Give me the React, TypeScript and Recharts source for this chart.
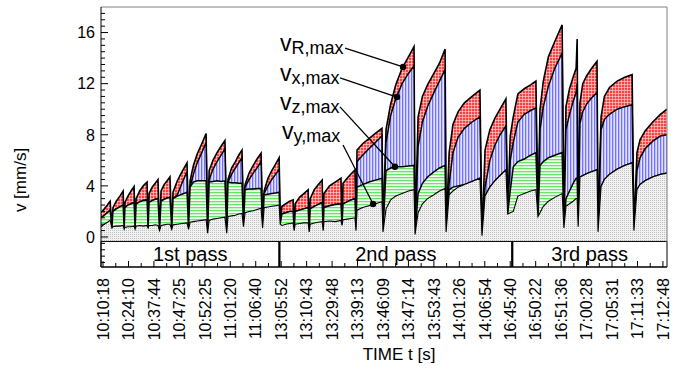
import React from "react";
import {
  ComposedChart,
  Area,
  XAxis,
  YAxis,
  ReferenceArea,
  ReferenceLine,
  ReferenceDot,
} from "recharts";

// category labels on the time axis (one per index step)
const timeLabels = [
  "10:10:18", "10:24:10", "10:37:44", "10:47:25", "10:52:25", "11:01:20",
  "11:06:40", "13:05:52", "13:10:43", "13:29:48", "13:39:13", "13:46:09",
  "13:47:14", "13:53:43", "14:01:26", "14:06:54", "16:45:40", "16:50:22",
  "16:51:36", "17:00:28", "17:05:31", "17:11:33", "17:12:48",
];

// sample positions, in label-index units
const tIdx = [
  // 1st pass
  -0.08, 0.05, 0.17, 0.28, 0.35,
  0.39, 0.52, 0.66, 0.79, 0.83,
  0.86, 0.98, 1.10, 1.22, 1.26,
  1.30, 1.44, 1.58, 1.73, 1.77,
  1.81, 1.93, 2.05, 2.16, 2.22,
  2.28, 2.40, 2.52, 2.63, 2.70,
  2.75, 2.92, 3.10, 3.30, 3.36,
  3.42, 3.55, 3.70, 3.88, 4.05, 4.11,
  4.17, 4.32, 4.48, 4.64, 4.79, 4.86,
  4.91, 5.05, 5.20, 5.33, 5.46, 5.52,
  5.58, 5.74, 5.90, 6.05, 6.21, 6.27,
  6.33, 6.48, 6.63, 6.78, 6.92, 6.96,
  // 2nd pass
  7.03, 7.18, 7.33, 7.47, 7.51,
  7.55, 7.72, 7.89, 8.06, 8.10,
  8.14, 8.30, 8.46, 8.61, 8.65,
  8.68, 8.90, 9.12, 9.35, 9.39,
  9.43, 9.59, 9.75, 9.90, 9.94,
  9.98, 10.20, 10.45, 10.70, 10.96, 11.00,
  11.12, 11.30, 11.50, 11.75, 12.00, 12.22, 12.26,
  12.38, 12.55, 12.75, 13.00, 13.22, 13.44, 13.48,
  13.60, 13.75, 13.95, 14.20, 14.50, 14.81, 14.89,
  15.01, 15.20, 15.40, 15.60, 15.83, 15.90,
  // 3rd pass
  16.00, 16.12, 16.30, 16.55, 16.80, 17.01, 17.09,
  17.17, 17.30, 17.50, 17.75, 18.04, 18.11,
  18.19, 18.33, 18.47, 18.59, 18.63, 18.67,
  18.74, 18.85, 19.00, 19.20, 19.41, 19.45,
  19.57, 19.70, 19.90, 20.20, 20.50, 20.79, 20.86,
  20.98, 21.10, 21.30, 21.60, 21.90, 22.16,
];

// v_R,max [mm/s]
const vR = [
  1.9, 2.2, 2.5, 2.8, 0.7,
  2.3, 2.8, 3.2, 3.6, 0.6,
  2.7, 3.2, 3.6, 3.95, 0.6,
  3.0, 3.6, 4.0, 4.3, 0.7,
  3.4, 3.9, 4.2, 4.5, 0.5,
  3.6, 4.1, 4.4, 4.7, 0.6,
  3.5, 4.4, 5.1, 5.8, 0.6,
  4.4, 5.6, 6.5, 7.3, 8.1, 0.3,
  5.2, 6.0, 6.6, 7.1, 7.55, 0.3,
  4.5, 5.4, 5.9, 6.4, 6.8, 0.8,
  4.1, 5.0, 5.6, 6.1, 6.55, 0.7,
  3.6, 4.6, 5.2, 5.7, 6.2, 1.0,
  2.4, 2.6, 2.8, 2.9, 0.5,
  2.6, 3.1, 3.4, 3.7, 0.4,
  3.0, 3.7, 4.1, 4.45, 0.5,
  3.4, 4.0, 4.3, 4.6, 0.9,
  4.2, 4.6, 4.95, 5.25, 0.5,
  6.8, 7.3, 7.7, 8.1, 8.5, 0.4,
  8.4, 10.4, 11.9, 13.2, 14.1, 14.9, 0.2,
  9.4, 11.0, 11.9, 12.8, 13.6, 14.7, 0.4,
  6.6, 8.8, 9.8, 10.5, 11.0, 11.5, 0.1,
  6.8, 8.4, 9.3, 10.0, 10.8, 1.8,
  7.9, 9.4, 11.2, 11.6, 11.9, 12.2, 1.6,
  10.0, 12.2, 14.1, 15.3, 16.6, 0.7,
  10.2, 11.6, 12.5, 13.2, 15.5, 0.8,
  10.5, 12.0, 12.6, 13.2, 13.75, 0.4,
  9.4, 11.0, 11.7, 12.2, 12.5, 12.7, 0.5,
  6.6, 7.6, 8.3, 9.0, 9.6, 10.0,
];

// v_x,max [mm/s]
const vX = [
  1.5, 1.7, 1.9, 2.1, 0.7,
  2.0, 2.2, 2.35, 2.5, 0.6,
  2.3, 2.5, 2.6, 2.7, 0.6,
  2.6, 2.75, 2.85, 2.9, 0.7,
  2.7, 2.85, 2.95, 3.0, 0.5,
  2.8, 2.95, 3.05, 3.1, 0.6,
  3.0, 3.3, 4.2, 5.1, 0.6,
  3.9, 4.9, 5.8, 6.6, 7.4, 0.3,
  4.5, 5.3, 5.9, 6.4, 6.9, 0.3,
  4.3, 4.9, 5.4, 5.8, 6.2, 0.8,
  3.9, 4.5, 5.0, 5.4, 5.9, 0.7,
  3.4, 4.0, 4.5, 4.9, 5.3, 1.0,
  1.8, 1.9, 2.0, 2.0, 0.5,
  2.0, 2.1, 2.2, 2.3, 0.4,
  2.2, 2.4, 2.55, 2.7, 0.5,
  2.3, 2.45, 2.55, 2.6, 0.9,
  2.6, 2.75, 2.9, 3.0, 0.5,
  5.9, 6.4, 6.9, 7.4, 7.9, 0.4,
  7.4, 9.5, 10.8, 12.0, 12.8, 13.4, 0.2,
  7.1, 9.0, 10.2, 11.3, 12.2, 13.1, 0.4,
  4.2, 6.6, 7.8, 8.5, 9.0, 9.4, 0.1,
  3.9, 6.0, 7.2, 8.0, 8.7, 1.8,
  6.0, 7.4, 9.0, 9.6, 9.9, 10.1, 1.6,
  8.4, 10.2, 11.8, 13.2, 14.4, 0.7,
  8.4, 9.6, 10.6, 11.3, 12.0, 0.8,
  8.9, 9.8, 10.4, 10.9, 11.3, 0.4,
  8.4, 9.2, 9.6, 10.0, 10.2, 10.35, 0.5,
  5.2, 6.2, 6.9, 7.5, 7.9, 8.0,
];

// v_z,max [mm/s]
const vZ = [
  1.5, 1.7, 1.9, 2.1, 0.7,
  2.0, 2.2, 2.35, 2.5, 0.6,
  2.3, 2.5, 2.6, 2.7, 0.6,
  2.6, 2.75, 2.85, 2.9, 0.7,
  2.7, 2.85, 2.95, 3.0, 0.5,
  2.8, 2.95, 3.05, 3.1, 0.6,
  3.0, 3.2, 3.35, 3.5, 0.6,
  3.9, 4.3, 4.4, 4.4, 4.4, 0.3,
  4.3, 4.35, 4.4, 4.35, 4.4, 0.3,
  4.3, 4.25, 4.25, 4.2, 4.2, 0.8,
  3.7, 3.75, 3.75, 3.8, 3.8, 0.7,
  3.3, 3.35, 3.4, 3.45, 3.5, 1.0,
  1.8, 1.9, 2.0, 2.0, 0.5,
  2.0, 2.1, 2.2, 2.3, 0.4,
  2.2, 2.4, 2.55, 2.7, 0.5,
  2.3, 2.45, 2.55, 2.6, 0.9,
  2.6, 2.75, 2.9, 3.0, 0.5,
  3.9, 4.1, 4.3, 4.45, 4.6, 0.4,
  5.2, 5.4, 5.5, 5.5, 5.55, 5.6, 0.2,
  3.4, 4.2, 4.7, 5.1, 5.4, 5.6, 0.4,
  3.7, 3.9, 4.0, 4.1, 4.35, 4.6, 0.1,
  3.2, 3.9, 4.4, 4.8, 5.25, 1.8,
  3.6, 5.5, 5.9, 6.1, 6.4, 6.6, 1.6,
  5.6, 5.9, 6.2, 6.4, 6.6, 0.7,
  3.0, 3.6, 4.2, 4.6, 4.6, 0.8,
  4.7, 4.8, 4.95, 5.1, 5.25, 0.4,
  3.95, 4.5, 4.9, 5.3, 5.6, 5.8, 0.5,
  3.7, 4.1, 4.4, 4.7, 4.9, 5.0,
];

// v_y,max [mm/s]
const vY = [
  0.8, 1.0, 1.15, 1.3, 0.7,
  0.8, 0.85, 0.85, 0.9, 0.6,
  0.75, 0.8, 0.8, 0.85, 0.6,
  0.85, 0.9, 0.85, 0.9, 0.7,
  0.9, 0.9, 0.95, 0.9, 0.5,
  0.9, 0.95, 1.0, 1.0, 0.6,
  0.95, 1.0, 1.05, 1.1, 0.6,
  1.15, 1.2, 1.25, 1.3, 1.35, 0.3,
  1.3, 1.4, 1.45, 1.5, 1.55, 0.3,
  1.6, 1.65, 1.7, 1.8, 1.85, 0.8,
  1.9, 2.0, 2.05, 2.15, 2.25, 0.7,
  2.3, 2.35, 2.4, 2.45, 2.5, 1.0,
  0.9, 1.0, 1.05, 1.1, 0.5,
  1.0, 1.05, 1.1, 1.1, 0.4,
  1.0, 1.1, 1.15, 1.2, 0.5,
  1.2, 1.25, 1.2, 1.3, 0.9,
  1.35, 1.4, 1.45, 1.5, 0.5,
  2.1, 2.3, 2.45, 2.6, 2.75, 0.4,
  2.2, 2.9, 3.2, 3.4, 3.6, 3.7, 0.2,
  1.9, 2.6, 3.0, 3.3, 3.6, 3.8, 0.4,
  3.3, 3.6, 3.9, 4.1, 4.35, 4.6, 0.1,
  3.2, 3.9, 4.4, 4.8, 5.25, 1.8,
  1.9, 2.0, 3.2, 3.4, 3.6, 3.7, 1.6,
  1.9, 2.4, 2.8, 3.1, 3.4, 0.7,
  2.4, 2.6, 2.8, 3.0, 3.0, 0.8,
  4.7, 4.8, 4.95, 5.1, 5.25, 0.4,
  3.95, 4.5, 4.9, 5.3, 5.6, 5.8, 0.5,
  3.7, 4.1, 4.4, 4.7, 4.9, 5.0,
];

const passes = [
  { name: "1st pass", from: -0.08, to: 6.93 },
  { name: "2nd pass", from: 6.93, to: 16.08 },
  { name: "3rd pass", from: 16.08, to: 22.16 },
];

// pointer lines from the labels to the curves
const pointers = [
  { from: [9.51, 14.79], to: [11.79, 13.31] },
  { from: [9.31, 12.45], to: [11.55, 10.95] },
  { from: [9.31, 10.18], to: [11.47, 5.5] },
  { from: [9.43, 7.2], to: [10.61, 2.58] },
];

const yMajor = [0, 4, 8, 12, 16];
const X_MIN = -0.08;
const X_MAX = 22.16;
const Y_MIN = -2.35;
const Y_MAX = 18;
const BAND_TOP = -0.35;

const xTicks = Array.from({ length: 45 }, (_, i) => i * 0.5);
const yTicks = Array.from({ length: 40 }, (_, i) => -2 + i * 0.5);

const rows = tIdx.map((t, i) => ({
  t,
  vR: vR[i],
  vX: vX[i],
  vZ: vZ[i],
  vY: vY[i],
}));

const FONT = '"Liberation Sans", Arial, Helvetica, sans-serif';

function XTick(props: any) {
  const { x, y, payload } = props;
  const v = payload.value as number;
  const major = Number.isInteger(v);
  return (
    <g>
      <line x1={x} x2={x} y1={y} y2={y - (major ? 6 : 4)} stroke="#000" />
      {major && (
        <text
          transform={`translate(${x},${y + 11}) rotate(-90)`}
          textAnchor="end"
          dy="0.36em"
          fontSize={16}
          fill="#000"
        >
          {timeLabels[v]}
        </text>
      )}
    </g>
  );
}

function YTick(props: any) {
  const { x, y, payload } = props;
  const v = payload.value as number;
  const major = yMajor.includes(v);
  return (
    <g>
      <line x1={x} x2={x + (major ? 7 : 4)} y1={y} y2={y} stroke="#000" />
      {major && (
        <text x={x - 6} y={y} dy="0.36em" textAnchor="end" fontSize={16} fill="#000">
          {v}
        </text>
      )}
    </g>
  );
}

function Patterns() {
  return (
    <svg width={0} height={0} style={{ position: "absolute" }}>
      <defs>
        <pattern id="redGrid" width={3} height={3} patternUnits="userSpaceOnUse">
          <rect width={3} height={3} fill="#ff4040" />
          <rect width={3} height={0.6} fill="#ffe0e0" />
          <rect width={0.6} height={3} fill="#ffe0e0" />
        </pattern>
        <pattern id="blueLines" width={3} height={3} patternUnits="userSpaceOnUse">
          <rect width={3} height={3} fill="#e2e2ff" />
          <rect width={1.3} height={3} fill="#7272ff" />
        </pattern>
        <pattern id="greenLines" width={3} height={3} patternUnits="userSpaceOnUse">
          <rect width={3} height={3} fill="#f2fff2" />
          <rect width={3} height={1.3} fill="#6be36b" />
        </pattern>
        <pattern id="grayDots" width={2} height={2} patternUnits="userSpaceOnUse">
          <rect width={2} height={2} fill="#f1f1f1" />
          <rect width={1} height={1} fill="#c2c2c2" />
        </pattern>
      </defs>
    </svg>
  );
}

export default function App() {
  return (
    <div
      style={{
        position: "absolute",
        left: 0,
        top: 0,
        width: 678,
        height: 370,
        background: "#fff",
        fontFamily: FONT,
      }}
    >
      <Patterns />
      <ComposedChart
        width={678}
        height={370}
        data={rows}
        margin={{ top: 7, right: 11, bottom: 0, left: 0 }}
      >
        <XAxis
          type="number"
          dataKey="t"
          domain={[X_MIN, X_MAX]}
          ticks={xTicks}
          interval={0}
          tick={(p: any) => <XTick {...p} />}
          tickLine={false}
          tickSize={0}
          tickMargin={0}
          height={103}
          axisLine={{ stroke: "#000" }}
          allowDataOverflow
        />
        <YAxis
          type="number"
          domain={[Y_MIN, Y_MAX]}
          ticks={yTicks}
          interval={0}
          tick={(p: any) => <YTick {...p} />}
          tickLine={false}
          tickSize={0}
          tickMargin={0}
          width={101}
          axisLine={{ stroke: "#000" }}
          allowDataOverflow
        />
        <Area
          type="linear"
          dataKey="vR"
          stroke="#000"
          strokeWidth={1.6}
          fill="url(#redGrid)"
          fillOpacity={1}
          baseValue={BAND_TOP}
          dot={false}
          activeDot={false}
          isAnimationActive={false}
        />
        <Area
          type="linear"
          dataKey="vX"
          stroke="#000"
          strokeWidth={1.5}
          fill="url(#blueLines)"
          fillOpacity={1}
          baseValue={BAND_TOP}
          dot={false}
          activeDot={false}
          isAnimationActive={false}
        />
        <Area
          type="linear"
          dataKey="vZ"
          stroke="#000"
          strokeWidth={1.5}
          fill="url(#greenLines)"
          fillOpacity={1}
          baseValue={BAND_TOP}
          dot={false}
          activeDot={false}
          isAnimationActive={false}
        />
        <Area
          type="linear"
          dataKey="vY"
          stroke="#000"
          strokeWidth={1.1}
          fill="url(#grayDots)"
          fillOpacity={1}
          baseValue={BAND_TOP}
          dot={false}
          activeDot={false}
          isAnimationActive={false}
        />
        {passes.map((p) => (
          <ReferenceArea
            key={p.name}
            x1={p.from}
            x2={p.to}
            y1={Y_MIN}
            y2={BAND_TOP}
            fill="#fff"
            fillOpacity={1}
            stroke="#000"
            strokeWidth={1}
            label={{ value: p.name, position: "center", fontSize: 20, fill: "#000" }}
          />
        ))}
        {passes.slice(1).map((p) => (
          <ReferenceLine
            key={`div-${p.name}`}
            segment={[
              { x: p.from, y: Y_MIN },
              { x: p.from, y: BAND_TOP },
            ]}
            stroke="#000"
            strokeWidth={2.2}
          />
        ))}
        <ReferenceLine y={Y_MAX} stroke="#808080" strokeWidth={1} />
        <ReferenceLine x={X_MAX} stroke="#808080" strokeWidth={1} />
        {pointers.map((p, i) => (
          <ReferenceLine
            key={`ptr-${i}`}
            segment={[
              { x: p.from[0], y: p.from[1] },
              { x: p.to[0], y: p.to[1] },
            ]}
            stroke="#000"
            strokeWidth={1.3}
          />
        ))}
        {pointers.map((p, i) => (
          <ReferenceDot
            key={`dot-${i}`}
            x={p.to[0]}
            y={p.to[1]}
            r={3.2}
            fill="#000"
            stroke="none"
          />
        ))}
      </ComposedChart>
      <svg
        width={678}
        height={370}
        style={{ position: "absolute", left: 0, top: 0, pointerEvents: "none" }}
      >
        <text x={280} y={51} fontSize={23} fill="#000">
          v<tspan fontSize={18} dy={3}>R,max</tspan>
        </text>
        <text x={280} y={81} fontSize={23} fill="#000">
          v<tspan fontSize={18} dy={3}>x,max</tspan>
        </text>
        <text x={280} y={110} fontSize={23} fill="#000">
          v<tspan fontSize={18} dy={3}>z,max</tspan>
        </text>
        <text x={282} y={139} fontSize={23} fill="#000">
          v<tspan fontSize={18} dy={3}>y,max</tspan>
        </text>
        <text
          x={20}
          y={180}
          transform="rotate(-90 20 180)"
          textAnchor="middle"
          dy="0.35em"
          fontSize={17}
          fill="#000"
        >
          v [mm/s]
        </text>
        <text x={399} y={360} textAnchor="middle" fontSize={17} fill="#000">
          TIME t [s]
        </text>
      </svg>
    </div>
  );
}
